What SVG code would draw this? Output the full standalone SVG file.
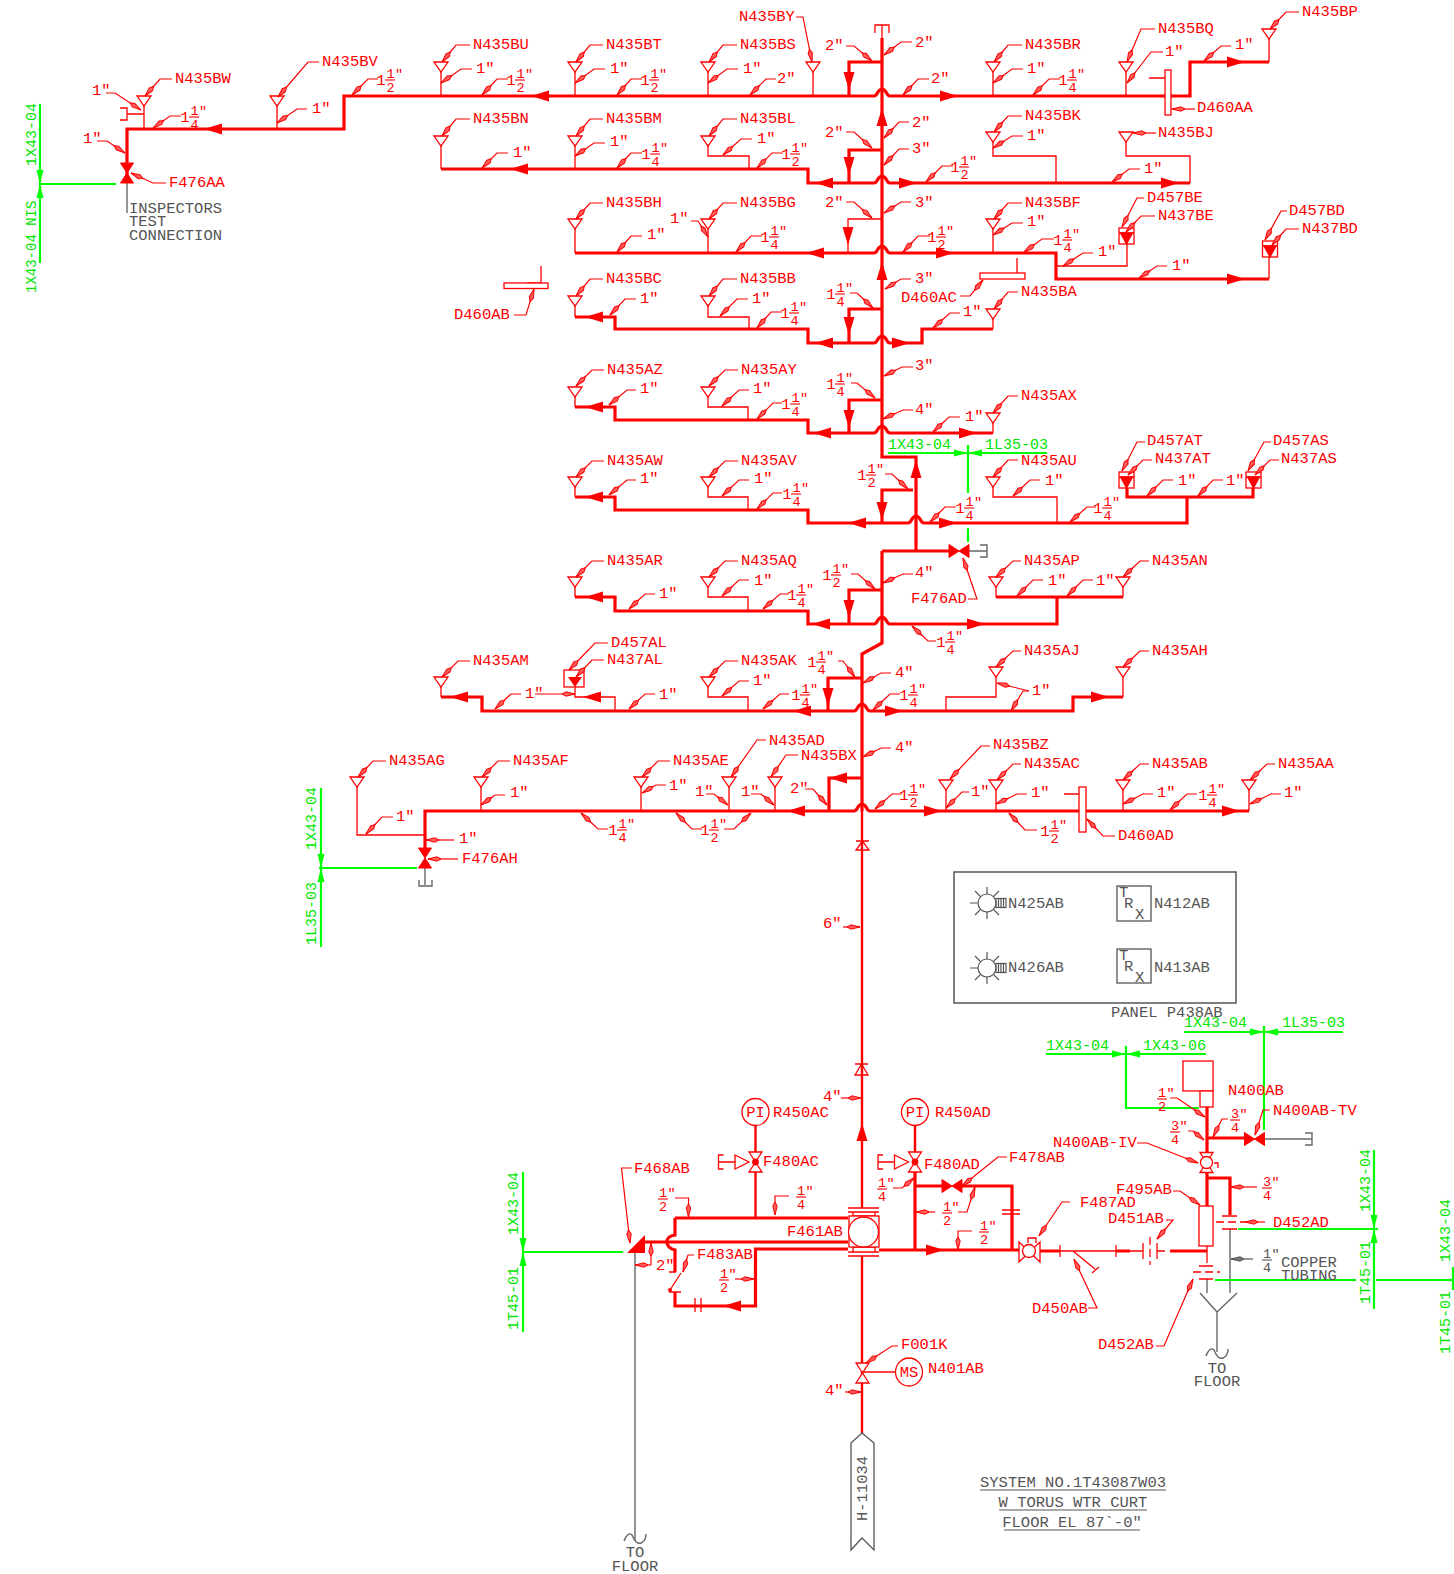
<svg xmlns="http://www.w3.org/2000/svg" width="1454" height="1574" viewBox="0 0 1454 1574">
<style>
text{font-family:"Liberation Mono",monospace;font-size:15.5px}
.r text,text.r{fill:#f00}
.k text,text.k{fill:#555}
.g text,text.g{fill:#00e600;font-size:15px}
.l{fill:none;stroke:#f00;stroke-width:1.2;marker-end:url(#a)}
.lk{fill:none;stroke:#555;stroke-width:1.2;marker-end:url(#ak)}
.t{fill:none;stroke:#f00;stroke-width:3.2}
.m{fill:none;stroke:#f00;stroke-width:2.4}
.n{fill:none;stroke:#f00;stroke-width:1.3}
.gy{fill:none;stroke:#666;stroke-width:1.4}
.gr{fill:none;stroke:#0f0;stroke-width:2.2}
.bar{stroke:#f00;stroke-width:1.1}
.f text{text-anchor:middle;fill:#f00;font-size:13.5px}
.fk text{text-anchor:middle;fill:#555;font-size:13.5px}
.f text.w{font-size:15.5px}
.c{text-anchor:middle}
.box{fill:#fff;stroke:#f00;stroke-width:1.3}
</style>
<defs>
<marker id="a" markerWidth="15" markerHeight="8" refX="14" refY="4" orient="auto" markerUnits="userSpaceOnUse"><path d="M1 4L5 1.8L14 4L5 6.2Z" fill="#ff5c5c" stroke="#f00" stroke-width="1"/></marker>
<marker id="ak" markerWidth="15" markerHeight="8" refX="14" refY="4" orient="auto" markerUnits="userSpaceOnUse"><path d="M1 4L5 1.8L14 4L5 6.200Z" fill="#777" stroke="#555" stroke-width="1"/></marker>
<path id="s" d="M-7 0H7L0 10Z" fill="#fff" stroke="#f00" stroke-width="1.3"/>
<path id="fr" d="M0 0L-18 -5.5V5.5Z" fill="#f00"/>
<path id="fL" d="M0 0L18 -5.5V5.5Z" fill="#f00"/>
<path id="fu" d="M0 0L-5.5 18H5.5Z" fill="#f00"/>
<path id="fd" d="M0 0L-5.5 -18H5.5Z" fill="#f00"/>
<path id="gr" d="M0 0L-14 -3.5V3.5Z" fill="#0f0"/>
<path id="gl" d="M0 0L14 -3.5V3.5Z" fill="#0f0"/>
<path id="gu" d="M0 0L-3.5 14H3.5Z" fill="#0f0"/>
<path id="gd" d="M0 0L-3.5 -14H3.5Z" fill="#0f0"/>
<path id="bv" d="M-6.5 -10H6.5L-6.5 10H6.5Z" fill="#f00" stroke="#f00"/>
<path id="bh" d="M-10 -6.5V6.5L10 -6.5V6.5Z" fill="#f00" stroke="#f00"/>
<path id="ov" d="M-6.5 -10H6.5L-6.5 10H6.5Z" fill="#fff" stroke="#f00" stroke-width="1.3"/>
<g id="lt" fill="none" stroke="#555" stroke-width="1.2"><circle r="9"/><path d="M-9 0H-17M0 -9V-16M0 9V16M-6.4 -6.4L-12 -12M6.4 -6.4L12 -12M-6.4 6.4L-12 12M6.4 6.4L12 12"/><rect x="9" y="-4.5" width="10" height="9"/><path d="M11.5 -4.5V4.5M14 -4.5V4.5M16.5 -4.5V4.5"/></g>
<g id="bx" fill="#fff" stroke="#f00" stroke-width="1.3"><rect x="-7.5" y="-8" width="15" height="16"/><path d="M-7.5 -3H7.5"/><path d="M-6 -3H6L0 8Z" fill="#f00"/></g>
<g id="pv"><path d="M-6.5 -10H6.5L-6.5 10H6.5Z" fill="#fff" stroke="#f00" stroke-width="1.3"/><path d="M-6 -7L-20 0L-6 7Z" transform="translate(-0.5,0) scale(-1,1) translate(26,0)" fill="#fff" stroke="#f00" stroke-width="1.3"/><circle r="3.4" fill="#f00"/><path d="M-20 0H-37M-32 -7H-37V7H-32" fill="none" stroke="#f00" stroke-width="1.3"/></g>
</defs>
<rect width="1454" height="1574" fill="#fff"/>

<g id="connectors">
<path class="n" d="M144 106V129M120 108H127V120H120M127 114H144M277 106V129M441 72V96M575 72V96M708 72V96M813 72V96M993 72V96M1126 72V96M1269 39V62M1149 78H1165M875 33V25H889V33M882 25V62"/>
<path class="n" d="M441 146V169M575 146V169M708 146V156H749V169M993 142V156H1056V183M1126 142V156H1190V183"/>
<path class="n" d="M575 229V253M708 229V253M993 229V253M882 219H848V253M1056 266H1127V244M1269 257V279M1017 258V273M541 266V283M527 283H541"/>
<path class="n" d="M575 306V317M708 306V317H749V329M993 319V329"/>
<path class="n" d="M575 397V407M708 397V407H748V420M993 423V433"/>
<path class="n" d="M575 487V497M708 487V497H748V510M993 487V497H1057V523"/>
<path class="n" d="M575 587V597M708 587V597H748V611M996 587V597M1123 587V597"/>
<path class="n" d="M441 687V697M575 687V697H615V711M708 687V697H748V711M946 711V697H996V677M1123 677V697"/>
<path class="n" d="M357 787V835H425M481 787V811M641 787V811M729 787V811M775 787V811M946 790V811M996 790V811M1123 790V811M1249 790V811M1064 794H1079"/>

<path class="t" d="M127 183V129H344V96H874Q876 96 878 92Q882 86 886 92Q888 96 890 96H1190V62H1269"/>
<path class="t" d="M882 62H849V96"/>
<path class="t" d="M441 169H808V183H874Q876 183 878 179Q882 173 886 179Q888 183 890 183H1190"/>
<path class="t" d="M882 150H849V183"/>
<path class="t" d="M575 253H874Q876 253 878 249Q882 243 886 249Q888 253 890 253H1056V279H1269"/>
<path class="t" d="M575 317H615V329H808V343H874Q876 343 878 339Q882 333 886 339Q888 343 890 343H922V329H993"/>
<path class="t" d="M882 309H849V343"/>
<path class="t" d="M575 407H615V420H808V433H874Q876 433 878 429Q882 423 886 429Q888 433 890 433H993"/>
<path class="t" d="M882 400H849V433"/>
<path class="t" d="M882 38V457H916V551M882 551V643L862 654V811"/>
<path class="t" d="M882 551H950"/>
<path class="t" d="M575 497H615V510H808V523H908Q910 523 912 519Q916 513 920 519Q922 523 924 523H1187V497M1127 487V497H1253V487"/>
<path class="t" d="M913 490H882V523"/>
<path class="t" d="M575 597H615V611H808V624H874Q876 624 878 620Q882 614 886 620Q888 624 890 624H1057V597M996 597H1123"/>
<path class="t" d="M882 590H849V624"/>
<path class="t" d="M441 697H482V711H854Q856 711 858 707Q862 701 866 707Q868 711 870 711H1073V697H1123"/>
<path class="t" d="M862 678H828V711"/>
<path class="t" d="M425 849V811H854Q856 811 858 807Q862 801 866 807Q868 811 870 811H1249"/>
<path class="t" d="M862 778H829V811"/>
<path class="m" d="M862 811V1208M862 1256V1433"/>
<path class="gy" d="M127 183V213M968 551H987M980 545H987V557H980M425 868V885M419 880V886H432V880M635 1253V1541M1264 1139H1312M1305 1133H1312V1145H1305M1230 1229V1293M1207 1279V1293M1200 1293L1217 1312L1237 1293M1217 1312V1352"/>
<path class="gy" d="M624 1541Q628 1531 632 1535Q636 1545 641 1543Q646 1541 646 1534M1206 1356Q1210 1346 1214 1350Q1218 1360 1223 1358Q1228 1356 1228 1349"/>

<path class="t" d="M644 1242H848M675 1218H848"/>
<path class="m" d="M755.5 1126V1152M755.5 1172V1217M915 1126V1152"/>
<path class="t" d="M675 1218V1235Q667 1236 667 1242Q667 1248 675 1250V1272M675 1292V1306H755.5V1249H848M879 1250H1019M915 1172V1250M915 1186H942M962 1186H1012V1250"/>
<path class="n" d="M669 1272H676M669 1292H681M681 1273L670 1290M695 1298V1312M701 1298V1312M1002 1210H1020M1002 1214H1020"/>
<circle cx="670" cy="1290" r="2" fill="#f00"/>
<path class="t" d="M1040 1251H1060M1116 1251H1130M1170 1251H1207"/>
<path class="n" d="M1060 1251H1116M1130 1251H1143M1157 1251H1165M1060 1245V1257M1116 1245V1257M1143 1243V1259M1157 1243V1259M1073 1251L1095 1269M1092 1273L1099 1267M1207 1246V1263M1199 1266H1213M1199 1279H1213M1222 1216H1237M1222 1229H1237"/>
<path class="n" d="M1150 1237V1265M1193 1272H1220M1216 1222H1245" stroke-dasharray="8 4"/>
<path class="t" d="M1207 1107V1153M1207 1172V1206M1207 1138H1245M1207 1178H1230V1215"/>

<path class="gr" d="M40 104V263M40 184H116M888 453H1047M968 445V493M968 528V542M319 868H417M321 788V947M523 1172V1332M523 1252H623M1184 1032H1343M1264 1026V1130M1046 1054H1206M1126 1046V1108H1199M1238 1229H1378M1374 1150V1309M1215 1280H1356M1376 1280H1454M1453 1267V1290"/>

<use href="#fL" x="531" y="96"/><use href="#fL" x="204" y="129"/><use href="#fr" x="958" y="96"/><use href="#fr" x="1245" y="62"/><use href="#fd" x="849" y="90"/><use href="#fu" x="882" y="108"/>
<use href="#fL" x="510" y="169"/><use href="#fL" x="815" y="183"/><use href="#fr" x="917" y="183"/><use href="#fr" x="1179" y="183"/><use href="#fd" x="849" y="175"/>
<use href="#fL" x="806" y="253"/><use href="#fr" x="954" y="253"/><use href="#fr" x="1245" y="279"/><use href="#fd" x="848" y="245"/><use href="#fu" x="882" y="262"/>
<use href="#fL" x="585" y="317"/><use href="#fL" x="815" y="343"/><use href="#fr" x="910" y="343"/><use href="#fd" x="849" y="335"/>
<use href="#fL" x="585" y="407"/><use href="#fL" x="813" y="433"/><use href="#fr" x="977" y="433"/><use href="#fd" x="849" y="428"/>
<use href="#fu" x="916" y="460"/><use href="#fd" x="882" y="520"/><use href="#fL" x="585" y="497"/><use href="#fL" x="848" y="523"/><use href="#fr" x="957" y="523"/>
<use href="#fL" x="585" y="597"/><use href="#fL" x="812" y="624"/><use href="#fr" x="985" y="624"/><use href="#fd" x="849" y="618"/>
<use href="#fL" x="450" y="697"/><use href="#fL" x="583" y="697"/><use href="#fL" x="793" y="711"/><use href="#fr" x="903" y="711"/><use href="#fr" x="1109" y="697"/><use href="#fd" x="828" y="706"/>
<use href="#fL" x="787" y="811"/><use href="#fL" x="829" y="778"/><use href="#fr" x="942" y="811"/><use href="#fr" x="1240" y="811"/>
<use href="#fu" x="862" y="1123"/><use href="#fL" x="723" y="1306"/><use href="#fr" x="944" y="1250"/>

<use href="#gd" x="40" y="184"/><use href="#gu" x="40" y="184"/><use href="#gr" x="968" y="453"/><use href="#gl" x="968" y="453"/><use href="#gd" x="321" y="868"/><use href="#gu" x="321" y="868"/><use href="#gd" x="523" y="1252"/><use href="#gu" x="523" y="1252"/><use href="#gr" x="1264" y="1032"/><use href="#gl" x="1264" y="1032"/><use href="#gr" x="1126" y="1054"/><use href="#gl" x="1126" y="1054"/><use href="#gd" x="1374" y="1229"/><use href="#gu" x="1374" y="1229"/>
</g>

<g id="line-tags" class="g">
<text transform="translate(36,166) rotate(-90)">1X43-04</text>
<text transform="translate(36,293) rotate(-90)" style="font-size:14px">1X43-04 NIS</text>
<text x="888" y="449">1X43-04</text><text x="985" y="449">1L35-03</text>
<text transform="translate(316,850) rotate(-90)">1X43-04</text><text transform="translate(316,945) rotate(-90)">1L35-03</text>
<text transform="translate(518,1235) rotate(-90)">1X43-04</text><text transform="translate(518,1330) rotate(-90)">1T45-01</text>
<text x="1184" y="1027">1X43-04</text><text x="1282" y="1027">1L35-03</text>
<text x="1046" y="1050">1X43-04</text><text x="1143" y="1050">1X43-06</text>
<text transform="translate(1370,1212) rotate(-90)">1X43-04</text><text transform="translate(1370,1304) rotate(-90)">1T45-01</text>
<text transform="translate(1450,1262) rotate(-90)">1X43-04</text><text transform="translate(1450,1354) rotate(-90)">1T45-01</text>
</g>

<g id="sprinklers" class="r">
<g id="N435BW"><use href="#s" x="144" y="96"/><path class="l" d="M172 79H160L145 96"/><text x="175" y="83">N435BW</text></g>
<g id="N435BV"><use href="#s" x="277" y="96"/><path class="l" d="M319 62H308L278 97"/><text x="322" y="66">N435BV</text></g>
<g id="N435BU"><use href="#s" x="441" y="62"/><path class="l" d="M470 45H456L442 62"/><text x="473" y="49">N435BU</text></g>
<g id="N435BT"><use href="#s" x="575" y="62"/><path class="l" d="M603 45H590L576 62"/><text x="606" y="49">N435BT</text></g>
<g id="N435BS"><use href="#s" x="708" y="62"/><path class="l" d="M737 45H723L709 62"/><text x="740" y="49">N435BS</text></g>
<g id="N435BY"><use href="#s" x="813" y="62"/><path class="l" d="M796 17H803L812 62"/><text x="739" y="21">N435BY</text></g>
<g id="N435BR"><use href="#s" x="993" y="62"/><path class="l" d="M1022 45H1008L994 62"/><text x="1025" y="49">N435BR</text></g>
<g id="N435BQ"><use href="#s" x="1126" y="62"/><path class="l" d="M1155 29H1141L1127 62"/><text x="1158" y="33">N435BQ</text></g>
<g id="N435BP"><use href="#s" x="1269" y="29"/><path class="l" d="M1299 12H1286L1270 29"/><text x="1302" y="16">N435BP</text></g>
<g id="N435BN"><use href="#s" x="441" y="136"/><path class="l" d="M470 119H456L442 136"/><text x="473" y="123">N435BN</text></g>
<g id="N435BM"><use href="#s" x="575" y="136"/><path class="l" d="M603 119H590L576 136"/><text x="606" y="123">N435BM</text></g>
<g id="N435BL"><use href="#s" x="708" y="136"/><path class="l" d="M737 119H723L709 136"/><text x="740" y="123">N435BL</text></g>
<g id="N435BK"><use href="#s" x="993" y="132"/><path class="l" d="M1022 116H1008L994 132"/><text x="1025" y="120">N435BK</text></g>
<g id="N435BJ"><use href="#s" x="1126" y="132"/><path class="l" d="M1156 133H1133"/><text x="1158" y="137">N435BJ</text></g>
<g id="N435BH"><use href="#s" x="575" y="219"/><path class="l" d="M603 203H590L576 219"/><text x="606" y="207">N435BH</text></g>
<g id="N435BG"><use href="#s" x="708" y="219"/><path class="l" d="M737 203H723L709 219"/><text x="740" y="207">N435BG</text></g>
<g id="N435BF"><use href="#s" x="993" y="219"/><path class="l" d="M1022 203H1008L994 219"/><text x="1025" y="207">N435BF</text></g>
<g id="N437BE"><use href="#bx" x="1126.5" y="236"/><path class="l" d="M1144 198H1137L1122 227"/><text x="1147" y="202">D457BE</text><path class="l" d="M1155 216H1141L1126 232"/><text x="1158" y="220">N437BE</text></g>
<g id="N437BD"><use href="#bx" x="1270" y="249"/><path class="l" d="M1287 211H1281L1265 240"/><text x="1289" y="215">D457BD</text><path class="l" d="M1299 229H1286L1272 245"/><text x="1302" y="233">N437BD</text></g>
<g id="N435BC"><use href="#s" x="575" y="296"/><path class="l" d="M603 279H590L576 296"/><text x="606" y="283">N435BC</text></g>
<g id="N435BB"><use href="#s" x="708" y="296"/><path class="l" d="M737 279H723L709 296"/><text x="740" y="283">N435BB</text></g>
<g id="N435BA"><use href="#s" x="993" y="309"/><path class="l" d="M1018 292H1008L994 309"/><text x="1021" y="296">N435BA</text></g>
<g id="N435AZ"><use href="#s" x="575" y="387"/><path class="l" d="M604 370H592L576 386"/><text x="607" y="374">N435AZ</text></g>
<g id="N435AY"><use href="#s" x="708" y="387"/><path class="l" d="M738 370H725L709 386"/><text x="741" y="374">N435AY</text></g>
<g id="N435AX"><use href="#s" x="993" y="413"/><path class="l" d="M1018 396H1008L993 413"/><text x="1021" y="400">N435AX</text></g>
<g id="N435AW"><use href="#s" x="575" y="477"/><path class="l" d="M604 461H592L576 477"/><text x="607" y="465">N435AW</text></g>
<g id="N435AV"><use href="#s" x="708" y="477"/><path class="l" d="M738 461H725L709 477"/><text x="741" y="465">N435AV</text></g>
<g id="N435AU"><use href="#s" x="993" y="477"/><path class="l" d="M1018 460H1008L993 477"/><text x="1021" y="465">N435AU</text></g>
<g id="N437AT"><use href="#bx" x="1126.5" y="480"/><path class="l" d="M1145 442H1137L1122 471"/><text x="1147" y="445">D457AT</text><path class="l" d="M1152 460H1143L1128 475"/><text x="1155" y="463">N437AT</text></g>
<g id="N437AS"><use href="#bx" x="1253.5" y="480"/><path class="l" d="M1271 442H1264L1248 471"/><text x="1273" y="445">D457AS</text><path class="l" d="M1279 460H1270L1255 475"/><text x="1281" y="463">N437AS</text></g>
<g id="N435AR"><use href="#s" x="575" y="577"/><path class="l" d="M604 561H592L576 577"/><text x="607" y="565">N435AR</text></g>
<g id="N435AQ"><use href="#s" x="708" y="577"/><path class="l" d="M738 561H725L709 577"/><text x="741" y="565">N435AQ</text></g>
<g id="N435AP"><use href="#s" x="996" y="577"/><path class="l" d="M1021 561H1013L996 577"/><text x="1024" y="565">N435AP</text></g>
<g id="N435AN"><use href="#s" x="1123" y="577"/><path class="l" d="M1149 561H1140L1123 577"/><text x="1152" y="565">N435AN</text></g>
<g id="N435AM"><use href="#s" x="441" y="677"/><path class="l" d="M470 661H458L442 677"/><text x="473" y="665">N435AM</text></g>
<g id="N437AL"><rect class="box" x="564" y="670" width="20" height="17"/><path d="M568 677H582L575 687Z" fill="#f00"/><path class="l" d="M608 643H595L569 670"/><text x="611" y="647">D457AL</text><path class="l" d="M604 660H592L576 677"/><text x="607" y="664">N437AL</text></g>
<g id="N435AK"><use href="#s" x="708" y="677"/><path class="l" d="M738 661H725L709 677"/><text x="741" y="665">N435AK</text></g>
<g id="N435AJ"><use href="#s" x="996" y="667"/><path class="l" d="M1021 651H1013L996 667"/><text x="1024" y="655">N435AJ</text></g>
<g id="N435AH"><use href="#s" x="1123" y="667"/><path class="l" d="M1149 651H1140L1123 667"/><text x="1152" y="655">N435AH</text></g>
<g id="N435AG"><use href="#s" x="357" y="777"/><path class="l" d="M386 761H373L358 777"/><text x="389" y="765">N435AG</text></g>
<g id="N435AF"><use href="#s" x="481" y="777"/><path class="l" d="M510 761H498L482 777"/><text x="513" y="765">N435AF</text></g>
<g id="N435AE"><use href="#s" x="641" y="777"/><path class="l" d="M670 761H658L642 777"/><text x="673" y="765">N435AE</text></g>
<g id="N435AD"><use href="#s" x="729" y="777"/><path class="l" d="M766 740H757L731 777"/><text x="769" y="745">N435AD</text></g>
<g id="N435BX"><use href="#s" x="775" y="777"/><path class="l" d="M798 755H786L771 777"/><text x="801" y="760">N435BX</text></g>
<g id="N435BZ"><use href="#s" x="946" y="780"/><path class="l" d="M990 746H981L950 779"/><text x="993" y="749">N435BZ</text></g>
<g id="N435AC"><use href="#s" x="996" y="780"/><path class="l" d="M1021 764H1013L997 780"/><text x="1024" y="768">N435AC</text></g>
<g id="N435AB"><use href="#s" x="1123" y="780"/><path class="l" d="M1149 764H1140L1123 780"/><text x="1152" y="768">N435AB</text></g>
<g id="N435AA"><use href="#s" x="1249" y="780"/><path class="l" d="M1275 764H1267L1250 780"/><text x="1278" y="768">N435AA</text></g>
</g>

<g id="sizes" class="r">
<path class="l" d="M472 69H461L441 83"/><text x="476" y="73">1"</text>
<path class="l" d="M605 69H594L575 83"/><text x="610" y="73">1"</text>
<path class="l" d="M738 69H727L708 83"/><text x="743" y="73">1"</text>
<path class="l" d="M1023 69H1012L993 83"/><text x="1027" y="73">1"</text>
<path class="l" d="M1163 52H1151L1127 83"/><text x="1165" y="56">1"</text>
<path class="l" d="M1231 46H1221L1204 61"/><text x="1235" y="49">1"</text>
<path class="l" d="M307 109H297L277 123"/><text x="312" y="113">1"</text>
<path class="l" d="M106 93H115L141 110"/><text x="92" y="95">1"</text>
<path class="l" d="M97 141H107L125 153"/><text x="83" y="143">1"</text>
<path class="l" d="M776 79H766L750 95"/><text x="777" y="83">2"</text>
<path class="l" d="M846 46H854L872 61"/><text x="825" y="50">2"</text>
<path class="l" d="M912 42H901L884 55"/><text x="915" y="47">2"</text>
<path class="l" d="M929 79H918L903 95"/><text x="931" y="83">2"</text>
<path class="l" d="M508 153H497L482 168"/><text x="513" y="157">1"</text>
<path class="l" d="M605 143H594L575 156"/><text x="610" y="146">1"</text>
<path class="l" d="M752 139H741L723 155"/><text x="757" y="143">1"</text>
<path class="l" d="M909 122H899L884 138"/><text x="912" y="127">2"</text>
<path class="l" d="M846 132H854L872 148"/><text x="825" y="137">2"</text>
<path class="l" d="M909 149H899L884 165"/><text x="912" y="153">3"</text>
<path class="l" d="M1023 136H1012L993 148"/><text x="1027" y="140">1"</text>
<path class="l" d="M1140 169H1129L1112 182"/><text x="1144" y="173">1"</text>
<path class="l" d="M691 221H698L708 237"/><text x="670" y="223">1"</text>
<path class="l" d="M642 236H631L617 252"/><text x="647" y="239">1"</text>
<path class="l" d="M846 202H854L872 218"/><text x="825" y="207">2"</text>
<path class="l" d="M911 202H901L884 213"/><text x="915" y="207">3"</text>
<path class="l" d="M1023 223H1012L993 235"/><text x="1027" y="226">1"</text>
<path class="l" d="M1093 253H1083L1063 266"/><text x="1098" y="256">1"</text>
<path class="l" d="M1167 266H1157L1139 278"/><text x="1172" y="270">1"</text>
<path class="l" d="M911 279H901L885 289"/><text x="915" y="283">3"</text>
<path class="l" d="M636 299H625L610 315"/><text x="640" y="303">1"</text>
<path class="l" d="M748 299H737L720 316"/><text x="752" y="303">1"</text>
<path class="l" d="M960 313H950L933 328"/><text x="963" y="316">1"</text>
<path class="l" d="M636 390H627L609 405"/><text x="640" y="393">1"</text>
<path class="l" d="M749 390H739L722 406"/><text x="753" y="393">1"</text>
<path class="l" d="M913 367H902L884 376"/><text x="915" y="370">3"</text>
<path class="l" d="M913 410H903L883 419"/><text x="915" y="414">4"</text>
<path class="l" d="M960 417H949L933 432"/><text x="965" y="421">1"</text>
<path class="l" d="M636 480H627L609 495"/><text x="640" y="483">1"</text>
<path class="l" d="M749 480H739L722 496"/><text x="754" y="483">1"</text>
<path class="l" d="M1040 480H1030L1013 496"/><text x="1045" y="485">1"</text>
<path class="l" d="M1173 480H1163L1147 496"/><text x="1178" y="485">1"</text>
<path class="l" d="M1223 480H1213L1198 496"/><text x="1226" y="485">1"</text>
<path class="l" d="M655 594H645L629 609"/><text x="659" y="598">1"</text>
<path class="l" d="M749 580H739L722 596"/><text x="754" y="585">1"</text>
<path class="l" d="M913 574H903L883 583"/><text x="915" y="577">4"</text>
<path class="l" d="M1043 580H1033L1017 596"/><text x="1048" y="585">1"</text>
<path class="l" d="M1093 580H1083L1067 596"/><text x="1096" y="585">1"</text>
<path class="l" d="M521 694H511L495 709"/><text x="525" y="698">1"</text>
<path class="l" d="M535 694H575"/>
<path class="l" d="M655 694H645L629 709"/><text x="659" y="699">1"</text>
<path class="l" d="M749 681H739L722 696"/><text x="753" y="685">1"</text>
<path class="l" d="M891 673H881L863 683"/><text x="895" y="677">4"</text>
<path class="l" d="M1029 691L997 683"/><path class="l" d="M1029 691H1023L1011 711"/><text x="1032" y="695">1"</text>
<path class="l" d="M505 795H495L481 805"/><text x="510" y="797">1"</text>
<path class="l" d="M393 817H382L366 834"/><text x="396" y="821">1"</text>
<path class="l" d="M454 840H426"/><text x="459" y="843">1"</text>
<path class="l" d="M666 785H656L642 793"/><text x="669" y="790">1"</text>
<path class="l" d="M706 794H714L728 805"/><text x="695" y="796">1"</text>
<path class="l" d="M751 794H761L774 805"/><text x="741" y="796">1"</text>
<path class="l" d="M805 789H813L827 805"/><text x="790" y="793">2"</text>
<path class="l" d="M891 748H881L863 757"/><text x="895" y="752">4"</text>
<path class="l" d="M969 792H962L946 808"/><text x="971" y="796">1"</text>
<path class="l" d="M1027 794H1017L996 804"/><text x="1031" y="797">1"</text>
<path class="l" d="M1153 794H1143L1123 804"/><text x="1157" y="797">1"</text>
<path class="l" d="M1281 794H1271L1250 804"/><text x="1284" y="797">1"</text>
<path class="l" d="M843 927H860"/><text x="823" y="928">6"</text>
<path class="l" d="M841 1098H861"/><text x="823" y="1101">4"</text>
<path class="l" d="M845 1392H861"/><text x="825" y="1395">4"</text>
<path class="l" d="M651 1265V1243"/><path class="l" d="M651 1265H635"/><text x="656" y="1270">2"</text>

<g class="f" transform="translate(384,80)"><text class="w" x="-3" y="5">1</text><text x="6.500" y="-2">1</text><path class="bar" d="M1 0H11"/><text x="6.500" y="12">2</text><text x="15" y="-2">"</text></g><path class="l" d="M378 79H368L352 95"/>
<g class="f" transform="translate(514,80)"><text class="w" x="-3" y="5">1</text><text x="6.500" y="-2">1</text><path class="bar" d="M1 0H11"/><text x="6.500" y="12">2</text><text x="15" y="-2">"</text></g><path class="l" d="M508 79H497L482 95"/>
<g class="f" transform="translate(648,80)"><text class="w" x="-3" y="5">1</text><text x="6.500" y="-2">1</text><path class="bar" d="M1 0H11"/><text x="6.500" y="12">2</text><text x="15" y="-2">"</text></g><path class="l" d="M642 79H631L617 95"/>
<g class="f" transform="translate(1066,80)"><text class="w" x="-3" y="5">1</text><text x="6.500" y="-2">1</text><path class="bar" d="M1 0H11"/><text x="6.500" y="12">4</text><text x="15" y="-2">"</text></g><path class="l" d="M1060 79H1049L1033 95"/>
<g class="f" transform="translate(188,117)"><text class="w" x="-3" y="5">1</text><text x="6.500" y="-2">1</text><path class="bar" d="M1 0H11"/><text x="6.500" y="12">4</text><text x="15" y="-2">"</text></g><path class="l" d="M181 116H170L153 128"/>
<g class="f" transform="translate(649,154)"><text class="w" x="-3" y="5">1</text><text x="6.500" y="-2">1</text><path class="bar" d="M1 0H11"/><text x="6.500" y="12">4</text><text x="15" y="-2">"</text></g><path class="l" d="M642 153H631L617 168"/>
<g class="f" transform="translate(789,154)"><text class="w" x="-3" y="5">1</text><text x="6.500" y="-2">1</text><path class="bar" d="M1 0H11"/><text x="6.500" y="12">2</text><text x="15" y="-2">"</text></g><path class="l" d="M783 153H772L757 168"/>
<g class="f" transform="translate(958,167)"><text class="w" x="-3" y="5">1</text><text x="6.500" y="-2">1</text><path class="bar" d="M1 0H11"/><text x="6.500" y="12">2</text><text x="15" y="-2">"</text></g><path class="l" d="M953 166H942L926 182"/>
<g class="f" transform="translate(768,237)"><text class="w" x="-3" y="5">1</text><text x="6.500" y="-2">1</text><path class="bar" d="M1 0H11"/><text x="6.500" y="12">4</text><text x="15" y="-2">"</text></g><path class="l" d="M762 236H751L736 252"/>
<g class="f" transform="translate(935,237)"><text class="w" x="-3" y="5">1</text><text x="6.500" y="-2">1</text><path class="bar" d="M1 0H11"/><text x="6.500" y="12">2</text><text x="15" y="-2">"</text></g><path class="l" d="M930 236H918L903 252"/>
<g class="f" transform="translate(1061,240)"><text class="w" x="-3" y="5">1</text><text x="6.500" y="-2">1</text><path class="bar" d="M1 0H11"/><text x="6.500" y="12">4</text><text x="15" y="-2">"</text></g><path class="l" d="M1054 239H1042L1024 252"/>
<g class="f" transform="translate(788,313)"><text class="w" x="-3" y="5">1</text><text x="6.500" y="-2">1</text><path class="bar" d="M1 0H11"/><text x="6.500" y="12">4</text><text x="15" y="-2">"</text></g><path class="l" d="M782 312H771L757 328"/>
<g class="f" transform="translate(834,294)"><text class="w" x="-3" y="5">1</text><text x="6.500" y="-2">1</text><path class="bar" d="M1 0H11"/><text x="6.500" y="12">4</text><text x="15" y="-2">"</text></g><path class="l" d="M850 293H857L873 308"/>
<g class="f" transform="translate(789,404)"><text class="w" x="-3" y="5">1</text><text x="6.500" y="-2">1</text><path class="bar" d="M1 0H11"/><text x="6.500" y="12">4</text><text x="15" y="-2">"</text></g><path class="l" d="M782 403H773L757 419"/>
<g class="f" transform="translate(834,384)"><text class="w" x="-3" y="5">1</text><text x="6.500" y="-2">1</text><path class="bar" d="M1 0H11"/><text x="6.500" y="12">4</text><text x="15" y="-2">"</text></g><path class="l" d="M851 383H857L875 398"/>
<g class="f" transform="translate(790,494)"><text class="w" x="-3" y="5">1</text><text x="6.500" y="-2">1</text><path class="bar" d="M1 0H11"/><text x="6.500" y="12">4</text><text x="15" y="-2">"</text></g><path class="l" d="M782 493H773L757 509"/>
<g class="f" transform="translate(865,475)"><text class="w" x="-3" y="5">1</text><text x="6.500" y="-2">1</text><path class="bar" d="M1 0H11"/><text x="6.500" y="12">2</text><text x="15" y="-2">"</text></g><path class="l" d="M885 474H892L908 489"/>
<g class="f" transform="translate(963,508)"><text class="w" x="-3" y="5">1</text><text x="6.500" y="-2">1</text><path class="bar" d="M1 0H11"/><text x="6.500" y="12">4</text><text x="15" y="-2">"</text></g><path class="l" d="M956 507H945L930 522"/>
<g class="f" transform="translate(1101,508)"><text class="w" x="-3" y="5">1</text><text x="6.500" y="-2">1</text><path class="bar" d="M1 0H11"/><text x="6.500" y="12">4</text><text x="15" y="-2">"</text></g><path class="l" d="M1096 507H1087L1070 522"/>
<g class="f" transform="translate(795,595)"><text class="w" x="-3" y="5">1</text><text x="6.500" y="-2">1</text><path class="bar" d="M1 0H11"/><text x="6.500" y="12">4</text><text x="15" y="-2">"</text></g><path class="l" d="M789 594H780L763 609"/>
<g class="f" transform="translate(830,575)"><text class="w" x="-3" y="5">1</text><text x="6.500" y="-2">1</text><path class="bar" d="M1 0H11"/><text x="6.500" y="12">2</text><text x="15" y="-2">"</text></g><path class="l" d="M851 574H858L875 589"/>
<g class="f" transform="translate(944,642)"><text class="w" x="-3" y="5">1</text><text x="6.500" y="-2">1</text><path class="bar" d="M1 0H11"/><text x="6.500" y="12">4</text><text x="15" y="-2">"</text></g><path class="l" d="M936 641H928L912 626"/>
<g class="f" transform="translate(799,695)"><text class="w" x="-3" y="5">1</text><text x="6.500" y="-2">1</text><path class="bar" d="M1 0H11"/><text x="6.500" y="12">4</text><text x="15" y="-2">"</text></g><path class="l" d="M789 694H780L763 709"/>
<g class="f" transform="translate(815,662)"><text class="w" x="-3" y="5">1</text><text x="6.500" y="-2">1</text><path class="bar" d="M1 0H11"/><text x="6.500" y="12">4</text><text x="15" y="-2">"</text></g><path class="l" d="M838 661H843L855 677"/>
<g class="f" transform="translate(907,695)"><text class="w" x="-3" y="5">1</text><text x="6.500" y="-2">1</text><path class="bar" d="M1 0H11"/><text x="6.500" y="12">4</text><text x="15" y="-2">"</text></g><path class="l" d="M900 694H890L873 710"/>
<g class="f" transform="translate(616,830)"><text class="w" x="-3" y="5">1</text><text x="6.500" y="-2">1</text><path class="bar" d="M1 0H11"/><text x="6.500" y="12">4</text><text x="15" y="-2">"</text></g><path class="l" d="M608 829H598L581 813"/>
<g class="f" transform="translate(708,830)"><text class="w" x="-3" y="5">1</text><text x="6.500" y="-2">1</text><path class="bar" d="M1 0H11"/><text x="6.500" y="12">2</text><text x="15" y="-2">"</text></g><path class="l" d="M702 829H692L676 813"/><path class="l" d="M724 829H734L751 813"/>
<g class="f" transform="translate(907,795)"><text class="w" x="-3" y="5">1</text><text x="6.500" y="-2">1</text><path class="bar" d="M1 0H11"/><text x="6.500" y="12">2</text><text x="15" y="-2">"</text></g><path class="l" d="M902 794H892L875 809"/>
<g class="f" transform="translate(1048,831)"><text class="w" x="-3" y="5">1</text><text x="6.500" y="-2">1</text><path class="bar" d="M1 0H11"/><text x="6.500" y="12">2</text><text x="15" y="-2">"</text></g><path class="l" d="M1037 830H1025L1009 813"/>
<g class="f" transform="translate(1206,795)"><text class="w" x="-3" y="5">1</text><text x="6.500" y="-2">1</text><path class="bar" d="M1 0H11"/><text x="6.500" y="12">4</text><text x="15" y="-2">"</text></g><path class="l" d="M1197 794H1187L1170 810"/>

<g class="f" transform="translate(796,1197)"><text x="5" y="-2">1</text><path class="bar" d="M0 0H10"/><text x="5" y="12">4</text><text x="13.500" y="-2">"</text></g><path class="l" d="M789 1196H775V1215"/>
<g class="f" transform="translate(658,1199)"><text x="5" y="-2">1</text><path class="bar" d="M0 0H10"/><text x="5" y="12">2</text><text x="13.500" y="-2">"</text></g><path class="l" d="M675 1198H688.5V1217"/>
<g class="f" transform="translate(719,1280)"><text x="5" y="-2">1</text><path class="bar" d="M0 0H10"/><text x="5" y="12">2</text><text x="13.500" y="-2">"</text></g><path class="l" d="M735 1279H754"/>
<g class="f" transform="translate(877,1189)"><text x="5" y="-2">1</text><path class="bar" d="M0 0H10"/><text x="5" y="12">4</text><text x="13.500" y="-2">"</text></g><path class="l" d="M893 1188H902L914 1178"/>
<g class="f" transform="translate(942,1213)"><text x="5" y="-2">1</text><path class="bar" d="M0 0H10"/><text x="5" y="12">2</text><text x="13.500" y="-2">"</text></g><path class="l" d="M935 1212H916"/><path class="l" d="M958 1212H967L975 1187"/>
<g class="f" transform="translate(979,1232)"><text x="5" y="-2">1</text><path class="bar" d="M0 0H10"/><text x="5" y="12">2</text><text x="13.500" y="-2">"</text></g><path class="l" d="M972 1231H958V1250"/>
<g class="f" transform="translate(1157,1099)"><text x="5" y="-2">1</text><path class="bar" d="M0 0H10"/><text x="5" y="12">2</text><text x="13.500" y="-2">"</text></g><path class="l" d="M1170 1098H1177L1205 1117"/>
<g class="f" transform="translate(1230,1120)"><text x="5" y="-2">3</text><path class="bar" d="M0 0H10"/><text x="5" y="12">4</text><text x="13.500" y="-2">"</text></g><path class="l" d="M1228 1119H1222L1213 1137"/>
<g class="f" transform="translate(1170,1132)"><text x="5" y="-2">3</text><path class="bar" d="M0 0H10"/><text x="5" y="12">4</text><text x="13.500" y="-2">"</text></g><path class="l" d="M1188 1131H1193L1204 1140"/>
<g class="f" transform="translate(1262,1188)"><text x="5" y="-2">3</text><path class="bar" d="M0 0H10"/><text x="5" y="12">4</text><text x="13.500" y="-2">"</text></g><path class="l" d="M1257 1187H1231"/>
<g class="fk" transform="translate(1262,1260)"><text x="5" y="-2">1</text><path d="M0 0H10" stroke="#555" stroke-width="1.1"/><text x="5" y="12">4</text><text x="13.500" y="-2">"</text></g><path class="lk" d="M1253 1259H1231"/>
</g>

<g id="F476AA" class="r"><use href="#bv" x="127" y="173"/><path class="l" d="M166 183H153L131 173"/><text x="169" y="187">F476AA</text></g>
<g id="D460AA" class="r"><rect class="box" x="1165" y="70" width="6" height="45"/><path class="l" d="M1195 109H1172"/><text x="1197" y="112">D460AA</text></g>
<g id="D460AB" class="r"><rect class="box" x="504" y="283" width="44" height="5.5"/><path class="l" d="M514 315H526L534 289"/><text x="454" y="319">D460AB</text></g>
<g id="D460AC" class="r"><rect class="box" x="980" y="273" width="45" height="6"/><path class="l" d="M960 296H970L983 280"/><text x="901" y="302">D460AC</text></g>
<g id="D460AD" class="r"><rect class="box" x="1079" y="787" width="7" height="45"/><path class="l" d="M1115 836H1103L1087 819"/><text x="1118" y="840">D460AD</text></g>
<g id="F476AD" class="r"><use href="#bh" x="959" y="551"/><path class="l" d="M968 599H977L963 558"/><text x="911" y="603">F476AD</text></g>
<g id="F476AH" class="r"><use href="#bv" x="425" y="858"/><path class="l" d="M458 859H428"/><text x="462" y="863">F476AH</text></g>
<path class="n" d="M856 841H869M862.500 841L856 850H869Z" fill="#fff" id="check-1"/>
<path class="n" d="M855 1064H868M861.500 1064L855 1075H868Z" fill="#fff" id="check-2"/>

<g id="panel" class="k">
<rect x="954" y="872" width="282" height="131" fill="none" stroke="#555" stroke-width="1.5"/>
<use href="#lt" x="987" y="903"/><text x="1008" y="908">N425AB</text>
<use href="#lt" x="987" y="968"/><text x="1008" y="972">N426AB</text>
<rect x="1117" y="886" width="34" height="35" fill="none" stroke="#555" stroke-width="1.3"/><text x="1119" y="897">T</text><text x="1124" y="908">R</text><text x="1135" y="919">X</text><text x="1154" y="908">N412AB</text>
<rect x="1117" y="949" width="34" height="34" fill="none" stroke="#555" stroke-width="1.3"/><text x="1119" y="960">T</text><text x="1124" y="971">R</text><text x="1135" y="982">X</text><text x="1154" y="972">N413AB</text>
<text x="1111" y="1017">PANEL P438AB</text>
</g>

<g id="inspectors" class="k"><text x="129" y="213">INSPECTORS</text><text x="129" y="226">TEST</text><text x="129" y="240">CONNECTION</text></g>

<g id="R450AC" class="r"><circle cx="755.5" cy="1112" r="13.5" fill="#fff" stroke="#f00" stroke-width="1.3"/><text x="755.5" y="1117" class="c">PI</text><text x="773" y="1117">R450AC</text></g>
<g id="R450AD" class="r"><circle cx="915" cy="1112" r="13.5" fill="#fff" stroke="#f00" stroke-width="1.3"/><text x="915" y="1117" class="c">PI</text><text x="935" y="1117">R450AD</text></g>
<g id="F480AC" class="r"><use href="#pv" x="755.5" y="1162"/><text x="763" y="1166">F480AC</text></g>
<g id="F480AD" class="r"><use href="#pv" x="915" y="1162"/><text x="924" y="1169">F480AD</text></g>
<g id="F478AB" class="r"><use href="#bh" x="952" y="1186"/><path class="l" d="M1007 1157H998L962 1186"/><text x="1009" y="1162">F478AB</text></g>
<g id="F468AB" class="r"><path d="M645 1235L645 1253H627Z" fill="#f00"/><path class="l" d="M632 1168H621.5L630 1243"/><text x="634" y="1173">F468AB</text></g>
<g id="F483AB" class="r"><path class="l" d="M694 1255H688L683 1272"/><text x="697" y="1259">F483AB</text></g>
<g id="F461AB" class="r">
<path class="n" d="M848 1208H879M848 1212H879M848 1252H879M848 1256H879M853 1212V1216H875V1212M853 1252V1247H875V1252"/>
<rect x="849" y="1216" width="30" height="31" fill="#fff" stroke="#f00" stroke-width="1.3"/>
<circle cx="863.5" cy="1232" r="15" fill="#fff" stroke="#f00" stroke-width="1.3"/>
<text x="787" y="1236">F461AB</text></g>
<g id="F487AD" class="r"><path d="M1019 1242V1262L1040 1242V1262Z" fill="#fff" stroke="#f00" stroke-width="1.3"/><circle cx="1029" cy="1251" r="6.5" fill="#fff" stroke="#f00" stroke-width="1.3"/><path class="n" d="M1028 1243V1238H1036V1243"/><path class="l" d="M1070 1202H1062L1039 1236"/><text x="1080" y="1207">F487AD</text></g>
<g id="D450AB" class="r"><path class="l" d="M1088 1308H1097L1074 1259"/><text x="1032" y="1313">D450AB</text></g>
<g id="D451AB" class="r"><path class="l" d="M1166 1220H1173L1157 1239"/><text x="1108" y="1223">D451AB</text></g>
<g id="D452AB" class="r"><path class="l" d="M1156 1346H1164L1193 1279"/><text x="1098" y="1349">D452AB</text></g>
<g id="D452AD" class="r"><path class="l" d="M1265 1222H1245"/><text x="1273" y="1227">D452AD</text></g>
<g id="F495AB" class="r"><rect class="box" x="1199" y="1206" width="14" height="40"/><path class="l" d="M1173 1191H1180L1200 1205"/><text x="1116" y="1194">F495AB</text></g>
<g id="N400AB" class="r"><rect class="box" x="1183" y="1061" width="30" height="30"/><rect class="box" x="1200" y="1091" width="13" height="16"/><text x="1228" y="1095">N400AB</text></g>
<g id="N400AB-TV" class="r"><use href="#bh" x="1254.5" y="1139"/><path class="l" d="M1270 1110H1263L1255 1135"/><text x="1273" y="1115">N400AB-TV</text></g>
<g id="N400AB-IV" class="r"><use href="#ov" x="1206.5" y="1162.5"/><circle cx="1206.5" cy="1162.5" r="6" fill="#fff" stroke="#f00" stroke-width="1.3"/><path class="n" d="M1214 1163H1218V1168"/><path class="l" d="M1137 1143H1147L1198 1163"/><text x="1053" y="1147">N400AB-IV</text></g>
<g id="F001K" class="r"><use href="#ov" x="862.5" y="1373"/><path class="n" d="M862 1372H896"/><path class="l" d="M898 1346H892L866 1363"/><text x="901" y="1349">F001K</text></g>
<g id="N401AB" class="r"><ellipse cx="909" cy="1372" rx="13.5" ry="14" fill="#fff" stroke="#f00" stroke-width="1.3"/><text x="909" y="1377" class="c">MS</text><text x="928" y="1373">N401AB</text></g>
<g id="H-11034" class="k"><path d="M862 1433L874 1443V1550L862 1538L851 1550V1443Z" fill="#fff" stroke="#555" stroke-width="1.3"/><text transform="translate(867,1521) rotate(-90)">H-11034</text></g>
<g id="to-floor-1" class="k"><text x="635" y="1557" class="c">TO</text><text x="635" y="1571" class="c">FLOOR</text></g>
<g id="to-floor-2" class="k"><text x="1217" y="1373" class="c">TO</text><text x="1217" y="1386" class="c">FLOOR</text></g>
<g id="copper" class="k"><text x="1281" y="1267">COPPER</text><text x="1281" y="1280">TUBING</text></g>
<g id="title" class="k"><text x="1073" y="1487" class="c">SYSTEM NO.1T43087W03</text><path d="M980 1490H1166M999 1510H1147M1004 1530H1140" stroke="#555" stroke-width="1.2"/><text x="1073" y="1507" class="c">W TORUS WTR CURT</text><text x="1072" y="1527" class="c">FLOOR EL 87`-0"</text></g>
</svg>
